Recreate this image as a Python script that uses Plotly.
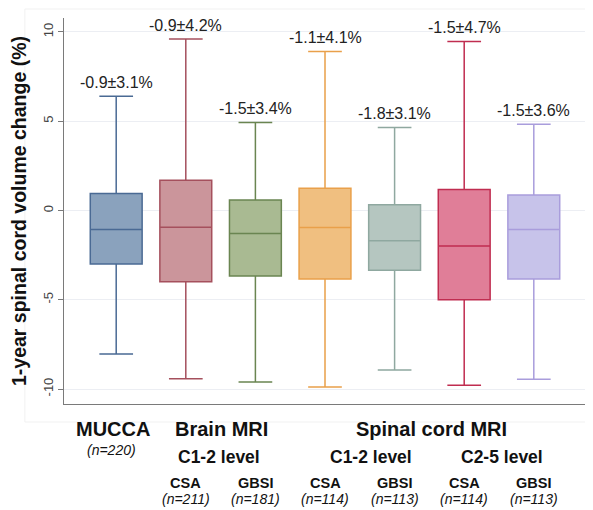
import plotly.graph_objects as go

# ---- data ----
groups = ["MUCCA", "Brain CSA", "Brain GBSI", "SC C1-2 CSA", "SC C1-2 GBSI", "SC C2-5 CSA", "SC C2-5 GBSI"]
upper = [6.4, 9.6, 4.93, 8.9, 4.64, 9.46, 4.83]
q3 = [0.95, 1.69, 0.58, 1.25, 0.32, 1.18, 0.86]
median = [-1.07, -0.94, -1.29, -0.96, -1.69, -1.99, -1.07]
q1 = [-3.0, -3.99, -3.67, -3.84, -3.35, -5.0, -3.84]
lower = [-8.04, -9.42, -9.61, -9.89, -8.94, -9.79, -9.46]
mean_sd = ["-0.9±3.1%", "-0.9±4.2%", "-1.5±3.4%", "-1.1±4.1%", "-1.8±3.1%", "-1.5±4.7%", "-1.5±3.6%"]
fills = ["#8aa2bd", "#cb959b", "#a9ba92", "#f0bf80", "#b5c6c0", "#e07e98", "#c7c3ea"]
lines = ["#4a6a94", "#a5505d", "#6a8551", "#e9a04a", "#8fa8a0", "#c02d50", "#a99ddc"]

measure_labels = ["CSA", "GBSI", "CSA", "GBSI", "CSA", "GBSI"]
n_labels = ["(n=211)", "(n=181)", "(n=114)", "(n=113)", "(n=114)", "(n=113)"]
y_ticks = [-10, -5, 0, 5, 10]

FONT = "Liberation Sans, Arial, Helvetica, sans-serif"

fig = go.Figure()
for i, g in enumerate(groups):
    fig.add_trace(go.Box(
        x=[i], q1=[q1[i]], median=[median[i]], q3=[q3[i]],
        lowerfence=[lower[i]], upperfence=[upper[i]],
        name=g, width=0.745, whiskerwidth=0.65,
        fillcolor=fills[i], line=dict(color=lines[i], width=1.5),
        boxpoints=False, hoverinfo="skip", showlegend=False,
    ))
    fig.add_annotation(x=i, y=upper[i], xref="x", yref="y", text=mean_sd[i],
                       showarrow=False, yshift=14, yanchor="middle",
                       font=dict(family=FONT, size=16, color="#222"))

# bottom group labels (paper coords; plot area spans 386 px, bottom edge at window px 404)
H_PLOT = 386.0
def py(pix):
    return (404.0 - pix) / H_PLOT

def add_label(x, ypix, text, size, bold=False, italic=False):
    t = text
    if bold:
        t = "<b>" + t + "</b>"
    if italic:
        t = "<i>" + t + "</i>"
    fig.add_annotation(x=x, y=py(ypix), xref="x", yref="paper", text=t,
                       showarrow=False, yanchor="middle", xanchor="center",
                       font=dict(family=FONT, size=size, color="#111"))

add_label(-0.05, 429, "MUCCA", 20, bold=True)
add_label(-0.07, 450, "(n=220)", 14, italic=True)
add_label(1.51, 429, "Brain MRI", 20, bold=True)
add_label(4.53, 429, "Spinal cord MRI", 20, bold=True)
add_label(1.48, 457, "C1-2 level", 17.5, bold=True)
add_label(3.66, 457, "C1-2 level", 17.5, bold=True)
add_label(5.55, 457, "C2-5 level", 17.5, bold=True)
for j, (m, n) in enumerate(zip(measure_labels, n_labels)):
    add_label(j + 1, 483, m, 14.5, bold=True)
    add_label(j + 1, 499, n, 14, italic=True)

# faint graph-region frame
fig.add_shape(type="rect", xref="paper", yref="paper",
              x0=-0.075, x1=1.0, y0=py(422), y1=py(9),
              line=dict(color="#f1f1f1", width=1), fillcolor="rgba(0,0,0,0)", layer="below")

# page body has an 8px default margin, so the figure is 8px smaller and shifted
fig.update_layout(
    width=585, height=502,
    margin=dict(l=56, r=7, t=10, b=106),
    paper_bgcolor="white", plot_bgcolor="white",
    font=dict(family=FONT),
    xaxis=dict(range=[-0.75, 6.75], showticklabels=False, ticks="", showgrid=False,
               zeroline=False, showline=True, linecolor="#7a7a7a", linewidth=1.3),
    yaxis=dict(range=[-10.84, 10.78], tickvals=y_ticks, ticktext=[str(v) for v in y_ticks],
               tickangle=-90, ticks="outside", ticklen=5, tickcolor="#7a7a7a",
               tickfont=dict(family=FONT, size=13, color="#444"),
               showgrid=True, gridcolor="#eceef3", gridwidth=1, zeroline=False,
               showline=True, linecolor="#7a7a7a", linewidth=1.3,
               title=dict(text="<b>1-year spinal cord volume change (%)</b>",
                          font=dict(family=FONT, size=19.5, color="#111"), standoff=10)),
)

fig.write_html("out.html")
